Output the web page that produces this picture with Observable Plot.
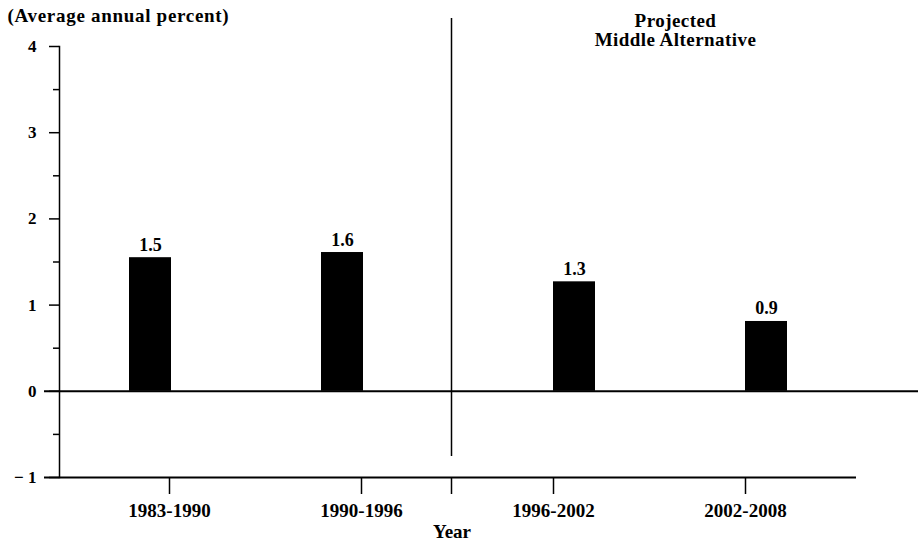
<!DOCTYPE html>
<html>
<head>
<meta charset="utf-8">
<script src="https://cdn.jsdelivr.net/npm/d3@7"></script>
<script src="https://cdn.jsdelivr.net/npm/@observablehq/plot@0.6"></script>
<style>
  html, body { margin: 0; padding: 0; background: #fff; }
  #chart svg { display: block; }
  #chart svg text { font-family: "Liberation Serif", "Times New Roman", serif !important; font-weight: bold; }
</style>
</head>
<body>
<div id="chart"></div>
<script>
const categories = ["1983-1990", "1990-1996", "1996-2002", "2002-2008"];
const values = [1.55, 1.61, 1.27, 0.81];
const valueLabels = ["1.5", "1.6", "1.3", "0.9"];
const projected = [false, false, true, true];
const yTicks = [-1, 0, 1, 2, 3, 4];
const yMinorTicks = [-0.5, 0.5, 1.5, 2.5, 3.5];
const yAxisTitle = "(Average annual percent)";
const xAxisTitle = "Year";
const projectionNote = "Projected\nMiddle Alternative";
const projectionStart = "1996-2002";

const data = categories.map((c, i) => ({period: c, value: values[i], label: valueLabels[i], projected: projected[i]}));
const hist = data.filter(d => !d.projected);
const proj = data.filter(d => d.projected);

const font = "Liberation Serif";

const chart = Plot.plot({
  width: 918,
  height: 546,
  marginLeft: 59,
  marginRight: 62,
  marginTop: 46,
  marginBottom: 69,
  style: {fontFamily: font, fontWeight: "bold", fontSize: "17px", color: "#000", background: "#fff"},
  x: {type: "band", domain: categories, paddingInner: 0.78, paddingOuter: 0.455},
  y: {domain: [-1, 4]},
  marks: [
    Plot.frame({anchor: "left", stroke: "#000", strokeWidth: 1.5}),
    Plot.axisY({ticks: yTicks, tickSize: 10, tickPadding: 13, strokeWidth: 1.5, fontSize: 17, fontFamily: font,
      tickFormat: d => d < 0 ? "\u2212 " + Math.abs(d) : String(d), label: null}),
    Plot.axisY({ticks: yMinorTicks, tickSize: 6, strokeWidth: 1.5, tickFormat: () => "", label: null}),
    Plot.barY(hist, {x: "period", y: "value", fill: "#000", dx: -19}),
    Plot.barY(proj, {x: "period", y: "value", fill: "#000", dx: 21}),
    Plot.text(hist, {x: "period", y: "value", text: "label", dx: -19, dy: -7, lineAnchor: "bottom", fontSize: 18, fontFamily: font}),
    Plot.text(proj, {x: "period", y: "value", text: "label", dx: 21, dy: -7, lineAnchor: "bottom", fontSize: 18, fontFamily: font}),
    Plot.ruleY([0], {stroke: "#000", strokeWidth: 2, insetLeft: -15, insetRight: -62}),
    Plot.ruleY([-1], {stroke: "#000", strokeWidth: 2, insetLeft: -15}),
    Plot.axisX({tickSize: 17, tickPadding: 9, strokeWidth: 1.5, fontSize: 19, fontFamily: font, label: null}),
    Plot.ruleX([projectionStart], {stroke: "#000", strokeWidth: 1.5, dx: -102, insetTop: -28, insetBottom: 21}),
    Plot.ruleX([projectionStart], {stroke: "#000", strokeWidth: 1.5, dx: -102, insetTop: 431, insetBottom: -17}),
    Plot.text([xAxisTitle], {frameAnchor: "bottom", dx: -6, dy: 60, lineAnchor: "bottom", fontSize: 19, fontFamily: font}),
    Plot.text([yAxisTitle], {frameAnchor: "top-left", dx: -52, dy: -25, textAnchor: "start", lineAnchor: "bottom", fontSize: 19, fontFamily: font}),
    Plot.text([projectionNote], {frameAnchor: "top-right", dx: -181, dy: -33, textAnchor: "middle", lineAnchor: "top", fontSize: 19, lineHeight: 1.0, fontFamily: font})
  ]
});
document.getElementById("chart").appendChild(chart);

// widen the wide-set header lettering slightly, as in the original
d3.select(chart).selectAll("text").each(function () {
  const t = this.textContent;
  if (t === yAxisTitle) d3.select(this).style("letter-spacing", "0.7px");
  if (t.startsWith("Projected")) d3.select(this).style("letter-spacing", "0.45px");
});
</script>
</body>
</html>
